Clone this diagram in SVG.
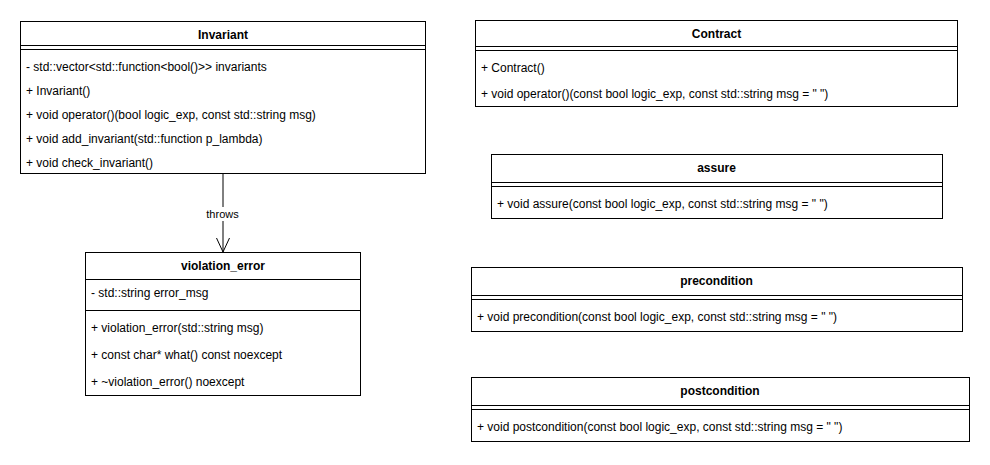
<svg xmlns="http://www.w3.org/2000/svg" width="990" height="465" viewBox="0 0 990 465">
<style>
.box{fill:#fff;stroke:#000;stroke-width:1}
.ln{stroke:#000;stroke-width:1;fill:none}
.t{font-family:"Liberation Sans",Arial,sans-serif;font-size:12px;fill:#000}
.h{font-family:"Liberation Sans",Arial,sans-serif;font-size:12px;font-weight:bold;fill:#000;text-anchor:middle}
.lbl{font-family:"Liberation Sans",Arial,sans-serif;font-size:11px;fill:#000;text-anchor:middle}
.con{stroke:#000;stroke-width:1;fill:none}
</style>
<rect width="990" height="465" fill="#fff"/>
<g id="connectors">
<line class="con" x1="223" y1="174" x2="223" y2="252"/>
<rect x="204" y="207" width="38" height="14" fill="#fff"/>
<text class="lbl" x="222.5" y="218">throws</text>
<path class="con" d="M216.5,238 L223,252 L229.5,238"/>
</g>
<g id="Invariant">
<rect class="box" x="20.5" y="21.5" width="405" height="152"/>
<line class="ln" x1="20.5" y1="45.5" x2="425.5" y2="45.5"/>
<line class="ln" x1="20.5" y1="49.5" x2="425.5" y2="49.5"/>
<text class="h" x="223" y="38.5">Invariant</text>
<text class="t" x="26" y="71">- std::vector&lt;std::function&lt;bool()&gt;&gt; invariants</text>
<text class="t" x="26" y="95">+ Invariant()</text>
<text class="t" x="26" y="119">+ void operator()(bool logic_exp, const std::string msg)</text>
<text class="t" x="26" y="143">+ void add_invariant(std::function p_lambda)</text>
<text class="t" x="26" y="167">+ void check_invariant()</text>
</g>
<g id="violation_error">
<rect class="box" x="85.5" y="252.5" width="275" height="143"/>
<line class="ln" x1="85.5" y1="279.5" x2="360.5" y2="279.5"/>
<line class="ln" x1="85.5" y1="310.5" x2="360.5" y2="310.5"/>
<text class="h" x="223" y="270">violation_error</text>
<text class="t" x="91" y="297">- std::string error_msg</text>
<text class="t" x="91" y="332">+ violation_error(std::string msg)</text>
<text class="t" x="91" y="359">+ const char* what() const noexcept</text>
<text class="t" x="91" y="386">+ ~violation_error() noexcept</text>
</g>
<g id="Contract">
<rect class="box" x="475.5" y="20.5" width="482" height="86"/>
<line class="ln" x1="475.5" y1="46.5" x2="957.5" y2="46.5"/>
<line class="ln" x1="475.5" y1="50.5" x2="957.5" y2="50.5"/>
<text class="h" x="716.5" y="38">Contract</text>
<text class="t" x="481" y="72">+ Contract()</text>
<text class="t" x="481" y="98">+ void operator()(const bool logic_exp, const std::string msg = " ")</text>
</g>
<g id="assure">
<rect class="box" x="491.5" y="154.5" width="451" height="64"/>
<line class="ln" x1="491.5" y1="182.5" x2="942.5" y2="182.5"/>
<line class="ln" x1="491.5" y1="186.5" x2="942.5" y2="186.5"/>
<text class="h" x="716.5" y="172">assure</text>
<text class="t" x="497" y="208">+ void assure(const bool logic_exp, const std::string msg = " ")</text>
</g>
<g id="precondition">
<rect class="box" x="471.5" y="267.5" width="491" height="64"/>
<line class="ln" x1="471.5" y1="295.5" x2="962.5" y2="295.5"/>
<line class="ln" x1="471.5" y1="299.5" x2="962.5" y2="299.5"/>
<text class="h" x="716.5" y="285">precondition</text>
<text class="t" x="477" y="321">+ void precondition(const bool logic_exp, const std::string msg = " ")</text>
</g>
<g id="postcondition">
<rect class="box" x="471.5" y="377.5" width="498" height="64"/>
<line class="ln" x1="471.5" y1="405.5" x2="969.5" y2="405.5"/>
<line class="ln" x1="471.5" y1="409.5" x2="969.5" y2="409.5"/>
<text class="h" x="720" y="395">postcondition</text>
<text class="t" x="477" y="431">+ void postcondition(const bool logic_exp, const std::string msg = " ")</text>
</g>
</svg>
